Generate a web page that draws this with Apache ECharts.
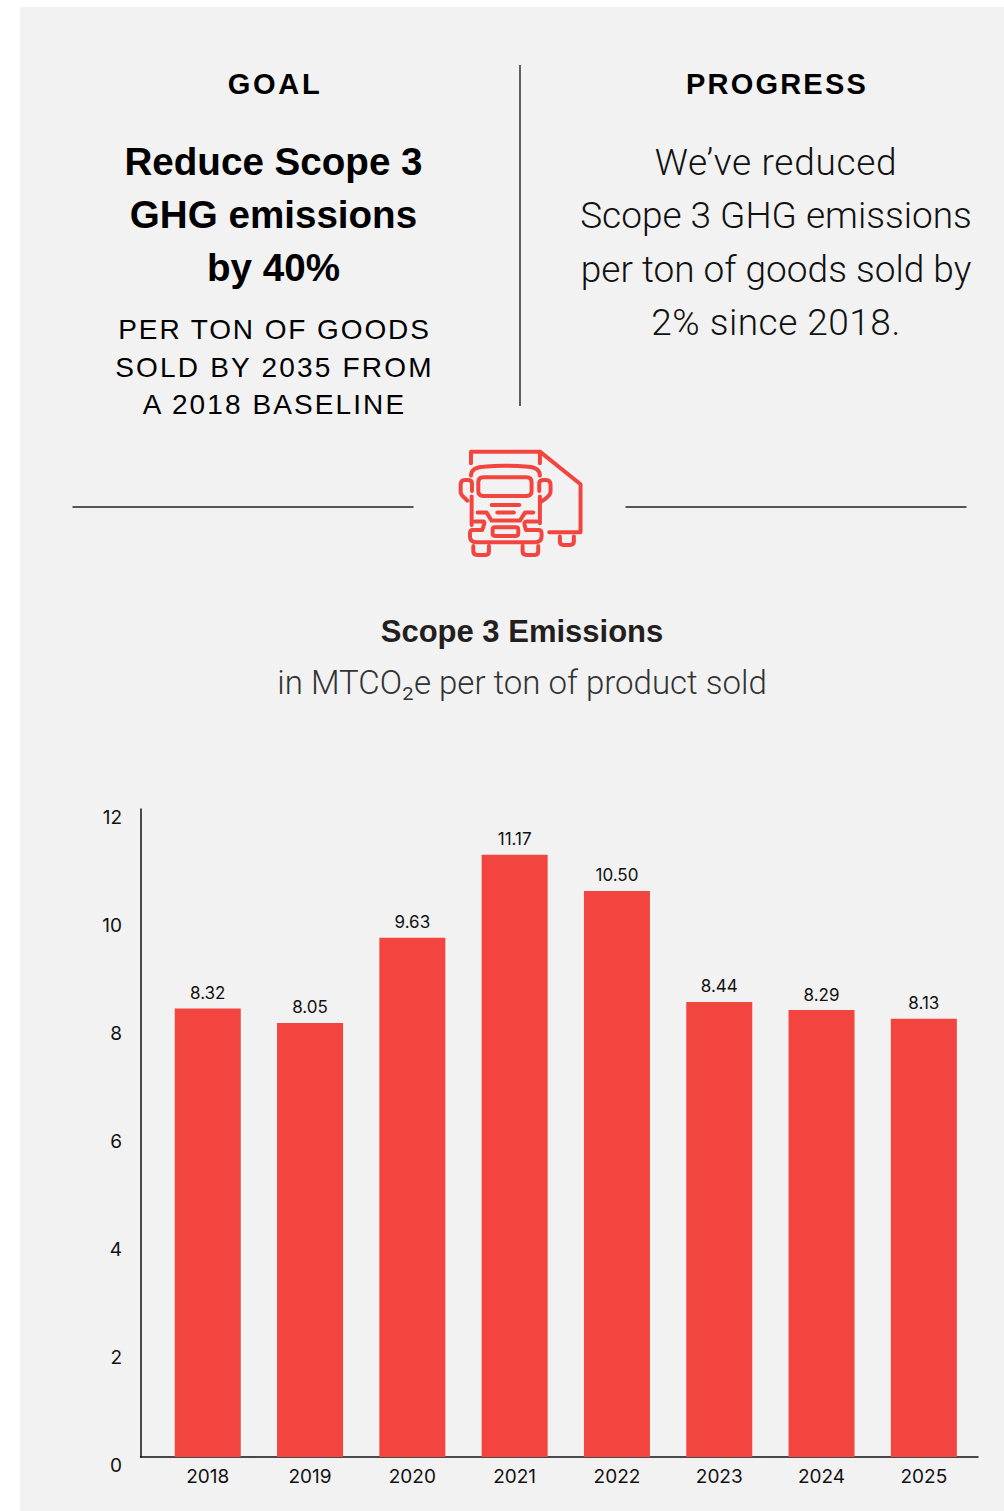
<!DOCTYPE html>
<html>
<head>
<meta charset="utf-8">
<style>
html,body{margin:0;padding:0;background:#fff}
#chart{width:1004px;height:1511px}
</style>
<script src="https://cdn.jsdelivr.net/npm/echarts@6/dist/echarts.min.js"></script>
</head>
<body>
<div id="chart"></div>
<script>
const years = ['2018','2019','2020','2021','2022','2023','2024','2025'];
const emissions = [8.32,8.05,9.63,11.17,10.50,8.44,8.29,8.13];
const yTicks = [0,2,4,6,8,10,12];
const goalHead = 'GOAL';
const goalLines = ['Reduce Scope 3','GHG emissions','by 40%'];
const goalSub = ['PER TON OF GOODS','SOLD BY 2035 FROM','A 2018 BASELINE'];
const progressHead = 'PROGRESS';
const progressLines = ['We\u2019ve reduced','Scope 3 GHG emissions','per ton of goods sold by','2% since 2018.'];
const chartTitle = 'Scope 3 Emissions';
const chartSub = 'in MTCO\u2082e per ton of product sold';

const RED = '#f2453f';
const LIGHT = 'Roboto';
const SANS = '"Liberation Sans"';
const spacing = {'GOAL':2.7,'PROGRESS':2.2,'PER TON OF GOODS':1.9,'SOLD BY 2035 FROM':2.2,'A 2018 BASELINE':2.1,
  'We\u2019ve reduced':0.7,'2% since 2018.':0.5};

const iconPath = 'M93,85 L93,50 L300,50 L300,85 M300,50 L422,148 L422,292 L328,292 '
 + 'M360,305 V320 Q360,330 370,330 H390 Q402,330 402,320 V305 '
 + 'M93,122 Q93,97 130,95 Q195,90 265,95 Q300,97 300,122 '
 + 'M130,127 H260 Q275,127 275,142 V168 Q275,183 260,183 H130 Q115,183 115,168 V142 Q115,127 130,127 Z '
 + 'M96,168 V145 Q96,135 82,135 H75 Q62,135 62,150 V170 Q62,180 75,190 L82,197 M95,185 V270 '
 + 'M298,168 V145 Q298,135 312,135 H318 Q332,135 332,150 V170 Q332,180 318,190 L300,203 M300,185 V265 '
 + 'M155,210 H238 M172,233 H222 M113,233 H140 L155,257 H240 L255,233 H280 '
 + 'M105,260 H130 Q135,260 132,270 L127,285 H98 Q90,285 90,295 V305 Q90,322 110,322 H285 Q305,322 305,305 V295 Q305,285 295,285 H258 L254,270 Q252,260 260,260 H290 '
 + 'M165,277 H228 Q235,277 235,284 V296 Q235,303 228,303 H165 Q158,303 158,296 V284 Q158,277 165,277 Z '
 + 'M100,333 V348 Q100,360 112,360 H137 Q147,360 147,348 V333 '
 + 'M248,333 V348 Q248,360 260,360 H285 Q295,360 295,348 V333';
echarts.graphic.registerShape('truckIcon', echarts.graphic.extendPath(iconPath, {}));

function txt(text, x, y, size, weight, family, color) {
  return {type:'text', x:x, y:y, silent:true, style:{text:text, x:0, y:0, fill:color||'#000',
    font: weight+' '+size+'px '+family, align:'center', verticalAlign:'middle'}};
}
function line(x1,y1,x2,y2){
  return {type:'line', silent:true, shape:{x1:x1,y1:y1,x2:x2,y2:y2}, style:{stroke:'#222',lineWidth:1.4}};
}
const graphics = [
  {type:'rect', z:-10, silent:true, shape:{x:20,y:7,width:984,height:1504}, style:{fill:'#f2f2f2'}},
  line(520,65,520,406), line(72.5,507,413.5,507), line(625.5,507,966.5,507),
  txt(goalHead,275,84,29,'bold',SANS),
  txt(progressHead,777,84,29,'bold',SANS),
  txt(chartTitle,522,631,31,'bold',SANS,'#231f20'),
  txt(chartSub,522,682,33,300,LIGHT,'#333'),
  {type:'truckIcon', silent:true, x:440, y:435, scaleX:1/3, scaleY:1/3,
    style:{fill:'none',stroke:RED,lineWidth:12,lineCap:'round',lineJoin:'round'}}
];
goalLines.forEach((t,i)=>graphics.push(txt(t,273.5,[161,214,267][i],38.6,'bold',SANS)));
goalSub.forEach((t,i)=>graphics.push(txt(t,274.5,[329,367,404][i],28,400,SANS)));
progressLines.forEach((t,i)=>graphics.push(txt(t,776,[162,215,269,322][i],37,300,LIGHT,'#111')));

const chart = echarts.init(document.getElementById('chart'), null, {renderer:'svg'});
const axisLineStyle = {show:true, lineStyle:{color:'#111',width:1.5}};
chart.setOption({
  animation:false,
  backgroundColor:'#fff',
  graphic:graphics,
  grid:[
    {left:140.5, top:809, width:837.5, height:648},
    {left:156.6, top:810, width:818.4, height:647}
  ],
  xAxis:[
    {gridIndex:0, type:'value', min:0, max:1, axisLine:axisLineStyle, axisTick:{show:false},
     axisLabel:{show:false}, splitLine:{show:false}},
    {gridIndex:1, type:'category', data:years, axisLine:{show:false}, axisTick:{show:false},
     axisLabel:{color:'#111',fontFamily:'Inter',fontSize:19,lineHeight:20,margin:9}}
  ],
  yAxis:[
    {gridIndex:0, type:'value', min:yTicks[0], max:yTicks[yTicks.length-1], interval:2,
     axisLine:axisLineStyle, axisTick:{show:false}, splitLine:{show:false},
     axisLabel:{color:'#111',fontFamily:'Inter',fontSize:19,lineHeight:16,margin:18.5,verticalAlign:'top'}},
    {gridIndex:1, type:'value', min:0, max:12, interval:2, show:false, splitLine:{show:false}}
  ],
  series:[{
    type:'bar', xAxisIndex:1, yAxisIndex:1, data:emissions, barWidth:66,
    itemStyle:{color:RED}, z:1,
    label:{show:true, position:'top', distance:7, color:'#111', fontFamily:'Inter', fontSize:17,
      formatter:p=>p.value.toFixed(2)}
  }]
});
function applySpacing(){
  document.querySelectorAll('#chart text').forEach(el=>{
    const s = spacing[el.textContent];
    if(s) el.style.letterSpacing = s+'px';
  });
}
chart.on('finished',applySpacing);
applySpacing();
</script>
</body>
</html>
